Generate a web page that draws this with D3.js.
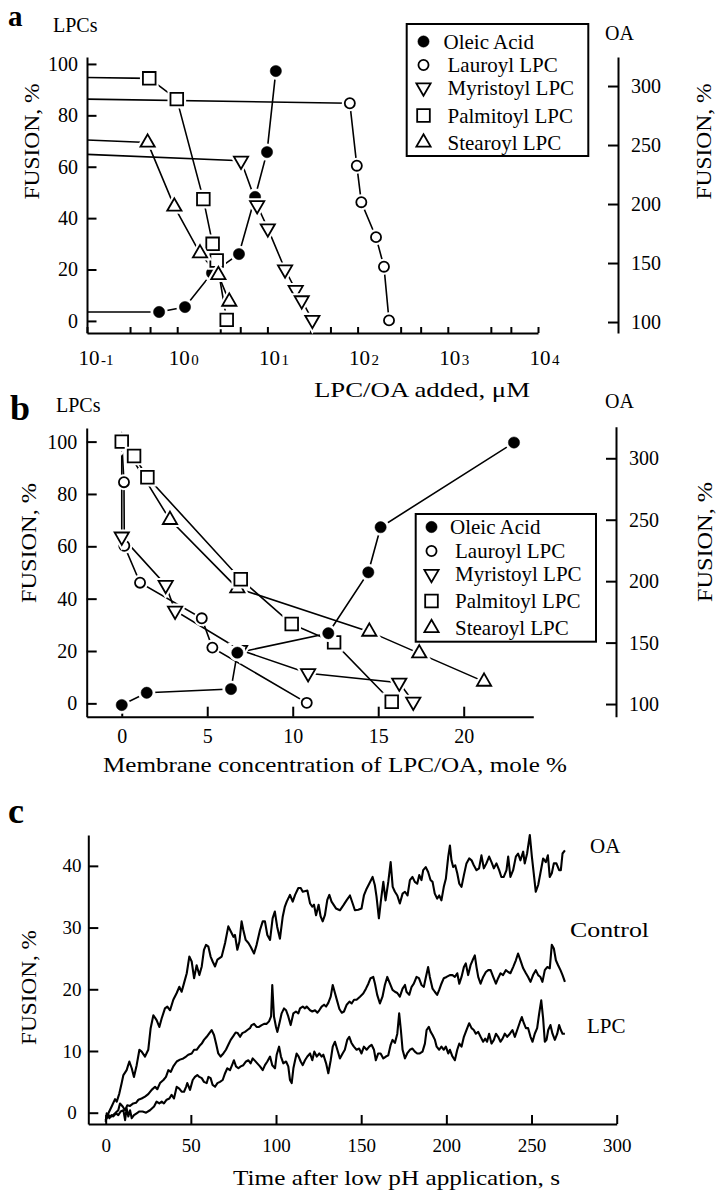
<!DOCTYPE html>
<html><head><meta charset="utf-8">
<script src="https://cdn.jsdelivr.net/npm/d3@7"></script>
<style>
body{margin:0;background:#fff;}
svg{display:block;}
text{font-family:"Liberation Serif","Times New Roman",serif;fill:#000;}
</style></head><body>
<svg id="chart" width="722" height="1199"></svg>
<script>
// ---------------- DATA ----------------
// Panel a: concentration added (µM, log) vs fusion (%); OA on right axis
const aOleicX = [0.63, 1.22, 2.43, 4.84, 7.3, 9.9, 12.4];
const aOleicY = [108.5, 112.7, 141.5, 157.6, 206, 244, 312.7];
const aLauroylX = [82, 98, 110, 160, 196, 223];
const aLauroylY = [84.7, 60.4, 46.2, 32.6, 21.1, 0.2];
const aMyristoylX = [5.1, 7.7, 10.1, 15.7, 20.6, 24, 31.5];
const aMyristoylY = [62.3, 45, 36, 20, 12, 8, 0.4];
const aPalmitoylX = [0.49, 0.99, 1.95, 2.47, 2.74, 3.54];
const aPalmitoylY = [94.4, 86.3, 47.4, 30, 23.5, 0.4];
const aStearoylX = [0.47, 0.93, 1.79, 2.86, 3.78];
const aStearoylY = [69.4, 44.5, 26.3, 17.9, 7.5];
// control levels (no additive), drawn from the axis edge
const aControl = {oleic:108.5, lauroyl:86.3, myristoyl:64.8, palmitoyl:94.7, stearoyl:70.4};

// Panel b: membrane concentration (mole %) vs fusion (%)
const bOleicX = [0, 1.46, 6.39, 6.76, 12.08, 14.42, 15.14, 22.94];
const bOleicY = [99.2, 109.2, 112.2, 141.8, 157.6, 207.2, 243.9, 312.8];
const bLauroylX = [0, 0.13, 0.15, 1.07, 4.68, 5.3, 10.82];
const bLauroylY = [100, 84.5, 60.2, 46.1, 32.5, 21.3, 0.2];
const bMyristoylX = [0, 0, 2.57, 3.12, 6.92, 10.9, 16.23, 17.05];
const bMyristoylY = [100, 63.7, 45.2, 35.4, 20.4, 11.5, 7.9, 0.6];
const bPalmitoylX = [0, 0.72, 1.5, 6.96, 9.94, 12.42, 15.79];
const bPalmitoylY = [100, 94.5, 86.4, 47.4, 30.3, 23.3, 0.6];
const bStearoylX = [0, 2.82, 6.76, 14.48, 17.4, 21.19];
const bStearoylY = [100, 70.1, 44, 27.4, 19.1, 8.3];

// Panel c: time courses [time s, fusion %]
const cOA = [[0,-1.2],[1.6,-0.1],[3.5,1.0],[5.5,2.2],[6.5,1.8],[8.0,3.1],[9.4,4.8],[10.4,6.1],[12.3,6.9],[13.9,8.3],[15.3,7.2],[16.6,5.8],[18.2,7.7],[19.8,10.2],[21.1,9.9],[23.1,9.1],[25.0,10.2],[26.4,13.7],[28.0,15.8],[29.9,15.0],[31.5,13.9],[32.9,15.3],[34.8,16.9],[36.2,17.2],[37.8,16.6],[39.7,18.3],[41.7,19.4],[43.2,20.4],[44.6,19.6],[46.0,21.0],[47.6,22.6],[49.1,25.3],[50.5,24.5],[51.9,21.8],[53.4,23.9],[55.0,22.3],[56.4,23.7],[57.7,26.4],[58.9,27.2],[60.3,26.9],[61.6,25.3],[62.8,24.5],[64.2,23.7],[65.6,24.8],[68.1,25.3],[70.1,27.5],[72.0,30.2],[73.4,29.4],[75.0,28.5],[75.9,28.8],[77.3,26.4],[78.5,27.7],[79.8,31.0],[80.8,29.6],[82.2,28.0],[83.8,27.5],[85.1,26.9],[87.1,25.8],[88.6,27.2],[90.6,29.6],[92.2,31.0],[93.5,31.0],[94.9,28.8],[96.5,28.0],[98.0,31.5],[99.3,32.6],[100.7,30.1],[102.3,28.2],[103.9,31.7],[105.2,33.4],[106.3,34.2],[108.2,35.3],[109.8,34.2],[111.2,35.3],[113.1,36.4],[114.5,36.4],[115.7,35.8],[118.4,36.0],[120.0,33.9],[121.3,33.4],[122.3,33.7],[123.5,32.0],[125.0,33.7],[126.2,31.8],[127.4,31.0],[128.7,32.0],[130.1,34.5],[131.3,35.3],[132.6,34.2],[135.2,33.1],[137.5,32.8],[139.5,33.6],[141.4,34.4],[143.4,35.2],[145.0,33.9],[146.3,32.8],[148.3,32.9],[150.2,33.1],[151.6,35.2],[153.2,36.3],[154.7,37.1],[156.7,38.2],[158.0,36.9],[159.0,35.0],[160.4,31.5],[161.6,34.4],[163.0,37.4],[164.3,34.4],[165.9,37.4],[167.3,40.6],[168.5,36.6],[169.8,35.8],[171.2,35.2],[172.7,33.9],[174.3,35.5],[175.7,35.8],[177.2,35.2],[178.6,37.7],[180.1,38.2],[181.5,37.4],[182.9,37.1],[184.1,38.5],[185.4,37.7],[186.4,39.3],[187.9,39.8],[189.3,39.0],[190.7,37.7],[191.9,37.4],[193.2,35.5],[194.6,34.7],[195.8,35.2],[197.1,34.4],[198.5,36.6],[199.7,37.9],[201.1,41.5],[202.1,43.3],[203.0,40.9],[204.0,39.8],[205.2,40.1],[206.4,38.8],[207.6,37.1],[208.9,36.6],[210.3,38.5],[211.8,40.4],[213.4,41.2],[214.8,40.9],[216.1,40.1],[217.7,39.3],[219.2,39.6],[220.6,41.7],[222.0,39.6],[223.5,40.4],[225.1,41.5],[226.5,40.6],[227.9,39.6],[229.4,40.4],[231.0,39.3],[232.3,38.2],[233.7,38.2],[235.3,39.3],[236.3,41.5],[237.6,38.2],[239.2,39.3],[240.8,41.5],[242.1,42.0],[243.5,40.9],[245.1,42.3],[246.0,40.4],[247.4,42.0],[249.0,45.0],[250.2,41.5],[251.3,38.8],[252.5,35.8],[253.9,36.9],[255.2,38.8],[256.8,41.2],[258.4,40.6],[259.6,41.7],[260.7,38.2],[261.9,38.8],[263.1,40.4],[264.6,40.4],[266.2,39.3],[267.2,39.3],[268.2,42.0],[269.6,42.5]];
const cControl = [[0,-1.2],[1.6,-0.4],[3.5,-0.6],[5.5,-0.1],[7.4,0.4],[8.4,1.5],[10.0,1.0],[11.4,0.4],[12.7,1.2],[14.3,1.1],[16.2,1.5],[17.8,1.6],[19.2,2.1],[21.1,2.3],[23.1,2.6],[25.0,3.0],[27.0,3.7],[29.0,4.2],[30.3,3.8],[31.9,4.8],[33.9,5.3],[35.4,5.8],[36.8,6.9],[38.2,6.6],[39.7,7.5],[41.7,8.3],[43.6,8.6],[45.6,8.8],[47.2,9.1],[48.5,9.4],[50.5,9.6],[51.9,10.2],[53.4,10.2],[55.0,10.8],[56.4,11.2],[57.7,11.8],[59.3,12.3],[60.9,12.9],[62.2,13.4],[63.6,12.6],[64.8,11.2],[66.1,9.6],[67.5,9.1],[69.1,9.6],[70.6,10.2],[72.0,11.0],[73.4,11.8],[74.9,12.4],[76.3,13.0],[77.5,12.9],[78.9,12.3],[80.2,12.9],[81.8,13.1],[83.2,13.4],[84.7,13.7],[85.7,14.2],[87.1,14.4],[88.6,13.9],[90.0,13.9],[91.6,14.2],[93.0,14.4],[94.5,14.4],[95.9,14.8],[97.1,15.6],[97.8,20.7],[98.8,15.6],[100.0,13.9],[100.8,13.1],[102.0,14.5],[103.3,16.1],[104.7,16.9],[105.9,16.6],[107.2,15.6],[108.6,14.2],[110.2,16.1],[111.7,16.4],[113.1,16.1],[114.1,16.9],[115.7,17.2],[117.0,16.9],[118.0,17.2],[120.0,16.6],[121.3,16.4],[122.9,16.6],[124.3,16.2],[125.4,16.6],[126.8,17.2],[128.2,17.5],[129.4,17.2],[130.7,17.8],[132.1,18.8],[133.3,20.7],[134.6,19.4],[136.0,18.0],[137.2,16.8],[138.6,16.2],[139.9,16.4],[141.5,17.5],[143.1,18.0],[144.4,17.7],[145.8,18.3],[147.3,18.3],[149.3,18.8],[151.2,19.3],[152.8,20.1],[154.2,20.9],[155.5,21.8],[157.1,22.0],[158.1,20.9],[159.4,19.1],[161.0,17.7],[162.5,18.8],[163.9,20.7],[165.3,22.0],[166.9,20.9],[168.4,19.9],[169.8,19.6],[171.2,19.4],[172.7,18.8],[174.3,20.1],[175.7,20.7],[176.6,19.6],[178.2,19.1],[179.6,20.4],[180.9,20.9],[182.5,22.0],[183.9,21.8],[185.4,20.7],[186.8,20.4],[188.0,22.0],[189.3,23.6],[190.3,22.0],[191.9,20.1],[193.2,19.6],[194.6,19.1],[195.8,19.9],[197.1,20.9],[198.5,21.8],[200.1,22.0],[202.1,22.3],[203.6,22.3],[205.0,22.0],[206.4,22.6],[207.6,20.9],[208.9,22.0],[210.3,23.6],[211.4,24.2],[212.8,22.3],[214.2,23.9],[215.4,24.7],[216.7,25.5],[217.7,23.6],[218.7,22.0],[220.1,20.9],[221.6,22.0],[223.2,22.8],[224.6,23.1],[226.0,23.1],[227.5,22.0],[229.1,20.9],[230.4,21.8],[231.8,22.6],[233.3,22.3],[234.9,23.1],[236.3,22.8],[237.6,22.6],[239.2,23.6],[240.8,24.7],[242.1,25.8],[243.5,24.7],[245.1,23.4],[246.7,22.6],[248.0,22.0],[249.4,21.2],[250.9,22.3],[252.5,23.1],[253.9,22.3],[255.2,22.0],[256.4,21.2],[257.8,23.1],[259.2,23.6],[260.7,23.4],[261.9,27.2],[263.1,26.6],[264.3,24.7],[265.6,23.9],[267.0,23.1],[268.2,22.3],[269.6,21.2]];
const cLPC = [[0,-1.5],[0.6,-0.1],[2.2,-0.9],[3.5,-0.4],[4.5,-0.6],[6.1,-0.1],[7.4,-0.4],[8.8,0.2],[10.4,0.4],[11.4,-1.2],[12.3,0.7],[13.3,-0.6],[14.3,0.4],[15.3,-0.9],[16.6,-0.4],[18.2,-0.1],[19.8,0.2],[21.7,0.2],[23.7,0.0],[26.0,0.4],[28.4,1.0],[29.9,1.8],[31.5,1.5],[32.9,1.8],[34.2,1.5],[35.8,2.1],[37.4,2.3],[38.7,2.9],[40.1,2.3],[41.7,4.2],[43.2,3.9],[44.6,3.4],[46.0,3.4],[47.2,4.2],[47.9,4.8],[49.5,3.7],[51.1,5.3],[52.4,5.8],[53.8,6.1],[55.0,5.8],[56.4,5.6],[57.7,5.0],[59.3,4.8],[60.3,5.8],[61.6,5.6],[62.8,4.5],[64.2,4.2],[65.6,4.8],[67.1,5.0],[68.7,5.3],[70.1,6.4],[71.4,7.2],[73.0,6.9],[74.6,8.0],[75.3,8.5],[76.5,7.5],[77.9,7.2],[79.3,7.5],[80.8,7.7],[82.4,8.3],[83.8,8.5],[85.1,8.0],[86.3,8.8],[87.7,8.4],[89.0,8.0],[90.6,7.5],[92.2,6.9],[93.5,7.7],[94.9,8.3],[96.5,9.1],[97.8,7.7],[99.4,7.2],[100.4,9.4],[101.8,10.7],[102.9,9.1],[104.3,8.0],[105.9,8.3],[107.2,7.5],[108.2,5.3],[109.2,4.8],[110.2,7.2],[111.2,8.5],[112.1,9.6],[113.3,9.1],[114.5,8.3],[115.7,7.7],[117.0,8.5],[118.4,9.1],[120.0,9.6],[121.3,8.5],[122.5,9.9],[123.9,9.1],[125.4,9.6],[126.8,9.1],[127.8,9.4],[129.4,8.0],[130.7,6.4],[132.1,8.5],[133.3,10.7],[134.6,11.5],[136.0,10.2],[137.5,8.8],[139.1,9.6],[140.4,10.2],[141.8,11.8],[143.0,12.3],[144.3,11.3],[145.7,10.7],[147.3,10.2],[148.8,10.4],[150.2,9.6],[151.6,10.7],[153.2,10.2],[154.7,10.7],[156.1,11.0],[157.5,10.2],[158.6,8.5],[160.0,9.6],[161.4,9.6],[163.0,8.8],[164.5,9.1],[165.9,9.3],[167.3,11.0],[168.4,11.8],[169.8,11.3],[171.2,12.8],[172.3,16.1],[173.3,13.4],[174.3,10.2],[175.7,8.8],[177.0,9.6],[178.6,10.2],[180.1,10.4],[181.5,9.9],[182.9,9.6],[184.4,9.6],[186.0,9.9],[187.4,11.2],[188.4,13.4],[189.7,13.9],[190.8,13.1],[191.9,12.6],[193.3,11.8],[194.3,10.7],[195.8,10.2],[197.1,10.7],[198.5,10.2],[199.7,10.7],[201.1,9.6],[202.1,10.2],[203.6,9.1],[205.0,8.5],[206.4,10.2],[207.6,11.2],[208.9,10.7],[210.3,12.3],[211.8,13.4],[213.4,14.5],[214.8,13.7],[216.1,13.4],[217.3,12.8],[218.7,13.1],[220.1,12.3],[221.6,11.5],[222.8,12.0],[223.9,11.5],[225.1,12.8],[226.5,11.2],[227.9,11.8],[229.1,12.8],[230.4,12.3],[231.8,11.5],[233.0,12.0],[234.3,12.8],[235.7,12.3],[237.3,12.8],[238.8,13.4],[240.2,12.3],[241.6,13.4],[243.2,14.7],[244.3,15.5],[245.5,14.5],[246.7,13.7],[248.0,13.7],[249.4,12.3],[250.6,11.5],[251.9,12.8],[253.3,13.7],[254.5,16.1],[255.7,18.2],[256.8,15.3],[257.8,11.5],[258.8,11.8],[259.8,13.4],[261.1,14.2],[262.3,12.8],[263.7,11.8],[265.1,12.8],[266.2,14.2],[267.2,13.4],[268.2,12.8],[269.6,12.8]];

// tick values and labels
const aLeftTicks = [0, 20, 40, 60, 80, 100];
const aRightTicks = [100, 150, 200, 250, 300];
const aDecades = [-1, 0, 1, 2, 3, 4];
const bXTicks = [0, 5, 10, 15, 20];
const cXTicks = [0, 50, 100, 150, 200, 250, 300];
const cYTicks = [0, 10, 20, 30, 40];
const legendLabels = ["Oleic Acid", "Lauroyl LPC", "Myristoyl LPC", "Palmitoyl LPC", "Stearoyl LPC"];
const legendSymbols = ["fcircle", "ocircle", "dtri", "square", "utri"];
const traceLabels = ["OA", "Control", "LPC"];

// ---------------- DRAWING ----------------
const svg = d3.select("#chart");
const FONT = "Liberation Serif";

function styleAxis(g, fs) {
  g.attr("font-family", FONT).attr("font-size", fs);
  g.select(".domain").attr("stroke", "#000").attr("stroke-width", 2);
  g.selectAll(".tick line").attr("stroke", "#000").attr("stroke-width", 2);
  g.selectAll(".tick text").attr("fill", "#000").attr("font-family", FONT).attr("font-size", fs);
}
function text(x, y, s, fs, o = {}) {
  const t = svg.append("text").attr("x", x).attr("y", y).attr("font-size", fs).text(s);
  if (o.anchor) t.attr("text-anchor", o.anchor);
  if (o.bold) t.attr("font-weight", "bold");
  if (o.len) t.attr("textLength", o.len).attr("lengthAdjust", "spacingAndGlyphs");
  if (o.base) t.attr("dominant-baseline", o.base);
  return t;
}
function vtext(x, y, s, fs, len) {
  svg.append("text").attr("transform", `translate(${x},${y}) rotate(-90)`)
    .attr("text-anchor", "middle").attr("dominant-baseline", "central")
    .attr("font-size", fs).attr("textLength", len).attr("lengthAdjust", "spacingAndGlyphs")
    .text(s);
}
const symGen = {
  fcircle: d3.symbol().type(d3.symbolCircle).size(100),
  ocircle: d3.symbol().type(d3.symbolCircle).size(80),
  dtri: d3.symbol().type(d3.symbolTriangle).size(88),
  utri: d3.symbol().type(d3.symbolTriangle).size(88),
  square: d3.symbol().type(d3.symbolSquare).size(160)
};
function marker(g, type, x, y, halo = true) {
  const tr = `translate(${x},${y})` + (type === "dtri" ? " rotate(180)" : "");
  if (halo) g.append("path").attr("d", symGen[type]()).attr("transform", tr)
    .attr("fill", "#fff").attr("stroke", "#fff").attr("stroke-width", 6);
  g.append("path").attr("d", symGen[type]()).attr("transform", tr)
    .attr("fill", type === "fcircle" ? "#000" : "#fff")
    .attr("stroke", "#000").attr("stroke-width", type === "fcircle" ? 0.5 : 1.8);
}
function zip(xs, ys) { return xs.map((x, i) => [x, ys[i]]); }

// ===== Panel a =====
const ax = d3.scaleLog().domain([0.1, 10000]).range([87, 538]);
const ayL = d3.scaleLinear().domain([-4.7, 102.7]).range([333, 57]);
const ayR = d3.scaleLinear().domain([90.7, 324.6]).range([333, 57]);
const aMinor = [];
aDecades.forEach(e => { const b = Math.pow(10, e); (e < 4 ? [1, 3, 5] : [1]).forEach(m => aMinor.push(m * b)); });

svg.append("g").attr("transform", "translate(0,333)")
  .call(d3.axisBottom(ax).tickValues(aMinor).tickSize(-6).tickSizeOuter(0).tickFormat(() => ""))
  .call(g => styleAxis(g, 20));
svg.append("g").attr("transform", "translate(87,0)")
  .call(d3.axisLeft(ayL).tickValues(aLeftTicks).tickSize(-9.5).tickSizeOuter(0).tickPadding(9))
  .call(g => styleAxis(g, 20));
svg.append("g").attr("transform", "translate(618,0)")
  .call(d3.axisRight(ayR).tickValues(aRightTicks).tickSize(-10).tickSizeOuter(0).tickPadding(13))
  .call(g => styleAxis(g, 20));
aDecades.forEach(e => {
  const x = ax(Math.pow(10, e));
  text(x + 2, 365, "10", 21, {anchor: "middle"});
  text(x + 14, 365, String(e), 15);
});

const aDefs = [
  {xs: aOleicX, ys: aOleicY, c: aControl.oleic, sym: "fcircle", y: ayR},
  {xs: aLauroylX, ys: aLauroylY, c: aControl.lauroyl, sym: "ocircle", y: ayL},
  {xs: aMyristoylX, ys: aMyristoylY, c: aControl.myristoyl, sym: "dtri", y: ayL},
  {xs: aPalmitoylX, ys: aPalmitoylY, c: aControl.palmitoyl, sym: "square", y: ayL},
  {xs: aStearoylX, ys: aStearoylY, c: aControl.stearoyl, sym: "utri", y: ayL}
];
const gA = svg.append("g");
aDefs.forEach(d => {
  const pts = [[0.1, d.c]].concat(zip(d.xs, d.ys));
  gA.append("path").attr("d", d3.line().x(p => ax(p[0])).y(p => d.y(p[1]))(pts))
    .attr("fill", "none").attr("stroke", "#000").attr("stroke-width", 1.6);
});
aDefs.forEach(d => zip(d.xs, d.ys).forEach(p => marker(gA, d.sym, ax(p[0]), d.y(p[1]))));

// legend a
svg.append("rect").attr("x", 406.7).attr("y", 24).attr("width", 181.6).attr("height", 132)
  .attr("fill", "#fff").attr("stroke", "#000").attr("stroke-width", 2);
const legAy = [41.5, 65, 87.5, 115.5, 142.5];
legendLabels.forEach((l, i) => {
  marker(svg, legendSymbols[i], 423.5, legAy[i], false);
  text(i === 0 ? 443.5 : 447.5, legAy[i], l, 21, {base: "central"});
});
text(8, 26, "a", 29, {bold: true});
text(53, 32, "LPCs", 20);
text(605, 40, "OA", 20);
vtext(31, 141.5, "FUSION, %", 22, 116);
vtext(703, 141.5, "FUSION, %", 22, 116);
text(314, 397, "LPC/OA added, \u03bcM", 22, {len: 216});

// ===== Panel b =====
const bx = d3.scaleLinear().domain([-2.05, 24.07]).range([86.7, 533.3]);
const byL = d3.scaleLinear().domain([-5.1, 105.2]).range([716.7, 428]);
const byR = d3.scaleLinear().domain([89.7, 325.7]).range([716.7, 426.7]);
svg.append("g").attr("transform", "translate(0,716.7)")
  .call(d3.axisBottom(bx).tickValues(bXTicks).tickSize(-10).tickSizeOuter(0).tickPadding(12))
  .call(g => styleAxis(g, 20));
svg.append("g").attr("transform", "translate(86.7,0)")
  .call(d3.axisLeft(byL).tickValues(aLeftTicks).tickSize(-10).tickSizeOuter(0).tickPadding(9.5))
  .call(g => styleAxis(g, 20));
svg.append("g").attr("transform", "translate(616,0)")
  .call(d3.axisRight(byR).tickValues(aRightTicks).tickSize(-10).tickSizeOuter(0).tickPadding(13))
  .call(g => styleAxis(g, 20));

const bDefs = [
  {xs: bLauroylX, ys: bLauroylY, sym: "ocircle", y: byL},
  {xs: bMyristoylX, ys: bMyristoylY, sym: "dtri", y: byL},
  {xs: bStearoylX, ys: bStearoylY, sym: "utri", y: byL},
  {xs: bPalmitoylX, ys: bPalmitoylY, sym: "square", y: byL},
  {xs: bOleicX, ys: bOleicY, sym: "fcircle", y: byR}
];
const gB = svg.append("g");
bDefs.forEach(d => {
  gB.append("path").attr("d", d3.line().x(p => bx(p[0])).y(p => d.y(p[1]))(zip(d.xs, d.ys)))
    .attr("fill", "none").attr("stroke", "#000").attr("stroke-width", 1.6);
});
bDefs.forEach(d => zip(d.xs, d.ys).forEach(p => marker(gB, d.sym, bx(p[0]), d.y(p[1]))));

svg.append("rect").attr("x", 415.7).attr("y", 514).attr("width", 180.3).attr("height", 127.7)
  .attr("fill", "#fff").attr("stroke", "#000").attr("stroke-width", 2);
const legBy = [527, 551, 574, 601, 628];
legendLabels.forEach((l, i) => {
  marker(svg, legendSymbols[i], 431.5, legBy[i], false);
  text(i === 0 ? 450 : 455, legBy[i], l, 21, {base: "central"});
});
text(10, 420, "b", 36, {bold: true});
text(56, 411.5, "LPCs", 20);
text(605, 408, "OA", 20);
vtext(28, 543, "FUSION, %", 22, 120);
vtext(704, 542, "FUSION, %", 22, 120);
text(103, 772, "Membrane concentration of LPC/OA, mole %", 22, {len: 464});

// ===== Panel c =====
const cx = d3.scaleLinear().domain([-10.2, 300]).range([88.3, 616.7]);
const cy = d3.scaleLinear().domain([-1.83, 45]).range([1124, 835]);
svg.append("g").attr("transform", "translate(0,1124)")
  .call(d3.axisBottom(cx).tickValues(cXTicks).tickSize(-9).tickSizeOuter(0).tickPadding(14.5))
  .call(g => styleAxis(g, 19));
svg.append("g").attr("transform", "translate(88.3,0)")
  .call(d3.axisLeft(cy).tickValues(cYTicks).tickSize(-10).tickSizeOuter(0).tickPadding(4))
  .call(g => { styleAxis(g, 19); g.selectAll(".tick text").attr("text-anchor", "middle").attr("x", -16.3); });

[cOA, cControl, cLPC].forEach(tr => {
  svg.append("path").attr("d", d3.line().x(p => cx(p[0])).y(p => cy(p[1]))(tr))
    .attr("fill", "none").attr("stroke", "#000").attr("stroke-width", 2.1)
    .attr("stroke-linejoin", "round");
});
text(590, 853, traceLabels[0], 21);
text(570, 937, traceLabels[1], 21, {len: 79});
text(587, 1033, traceLabels[2], 21);
text(8, 823, "c", 36, {bold: true});
vtext(29, 987.5, "FUSION, %", 21, 115);
text(233, 1185, "Time after low pH application, s", 22, {len: 327});
</script></body></html>
